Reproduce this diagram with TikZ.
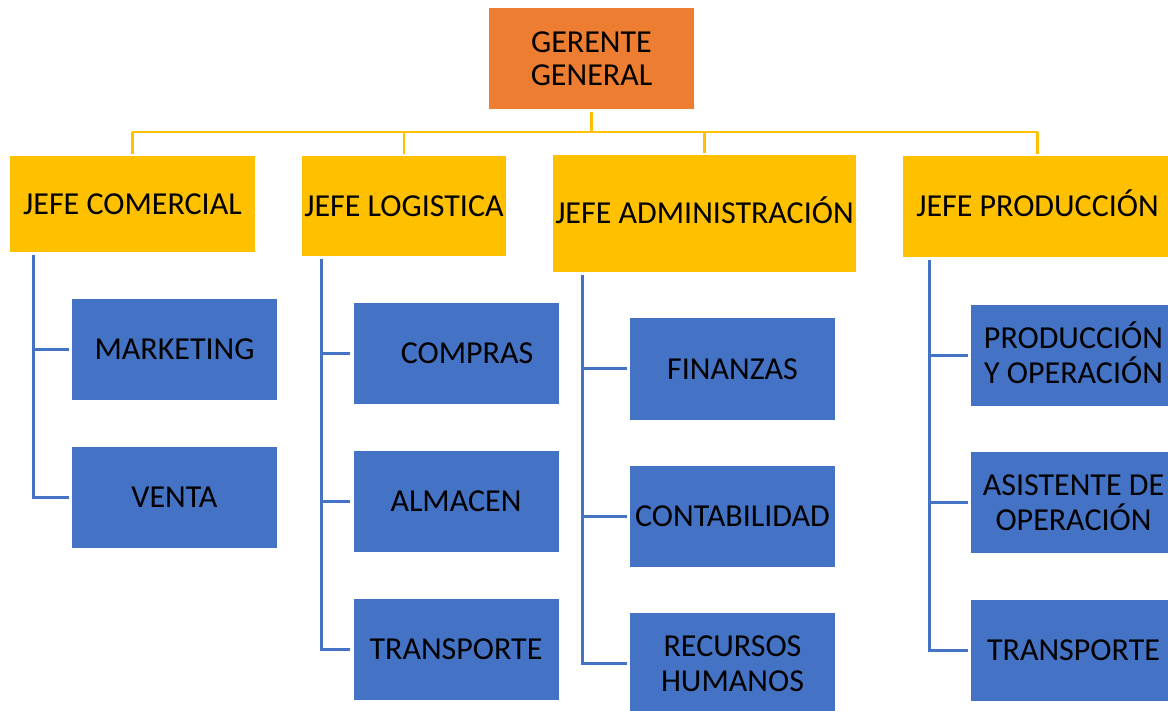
\documentclass[tikz,border=0pt]{standalone}
\usepackage{fontspec}
\setmainfont{Carlito}
\definecolor{orangeB}{HTML}{ED7D31}
\definecolor{yellowB}{HTML}{FFC000}
\definecolor{blueB}{HTML}{4472C4}
\begin{document}
\begin{tikzpicture}[x=1pt,y=-1pt,
  font=\fontsize{32}{35}\selectfont,
  basebox/.style={inner sep=0pt, align=center, text=black},
  topbox/.style={basebox, fill=orangeB, minimum width=205pt, minimum height=101pt, font=\fontsize{32}{33}\selectfont},
  chiefbox/.style={basebox, fill=yellowB},
  capsonly/.style={text height=20.6pt, text depth=0pt},
  unitbox/.style={basebox, fill=blueB, minimum width=205pt, minimum height=101pt},
  yline/.style={draw=yellowB, line width=2.5pt},
  bline/.style={draw=blueB, line width=3pt}]
\useasboundingbox (0,0) rectangle (1168,711);
\clip (0,0) rectangle (1168,711);

% top
\node[topbox] (g) at (591.5,58.5) {GERENTE\\GENERAL};

% chiefs
\node[chiefbox, minimum width=245pt, minimum height=96pt] (c1) at (132.5,204) {JEFE COMERCIAL};
\node[chiefbox, minimum width=204pt, minimum height=100pt] (c2) at (404,206) {JEFE LOGISTICA};
\node[chiefbox, capsonly, minimum width=303pt, minimum height=117pt] (c3) at (704.5,213.5) {JEFE ADMINISTRACIÓN};
\node[chiefbox, capsonly, minimum width=269pt, minimum height=101pt] (c4) at (1037.5,206.5) {JEFE PRODUCCIÓN};

% units
\node[unitbox] (m1) at (174.5,349.5) {MARKETING};
\node[unitbox] (m2) at (174.5,497) {VENTA};
\node[unitbox] (l1) at (456,353.5) {\hspace*{22pt}COMPRAS};
\node[unitbox] (l2) at (456,501) {ALMACEN};
\node[unitbox] (l3) at (456,649) {TRANSPORTE};
\node[unitbox] (a1) at (732.5,369) {FINANZAS};
\node[unitbox] (a2) at (732.5,516.5) {CONTABILIDAD};
\node[unitbox] (a3) at (732.5,663.5) {RECURSOS\\HUMANOS};
\node[unitbox] (p1) at (1073.5,355.5) {\raisebox{0pt}[20.6pt][0pt]{PRODUCCIÓN}\\Y OPERACIÓN};
\node[unitbox] (p2) at (1073.5,502.5) {ASISTENTE DE\\OPERACIÓN};
\node[unitbox] (p3) at (1073.5,650) {TRANSPORTE};

% yellow bus
\coordinate (busL) at (132,132);
\coordinate (busR) at (1038,132);
\draw[yline] (busL) -- (busR);
\draw[yline] ([yshift=-3pt]g.south) -- (g.south |- busL);
\foreach \c in {c1,c2,c3,c4}
  \draw[yline] ([yshift=2pt]\c.north) -- (\c.north |- busL);

% blue connectors
\coordinate (v1) at (33,255);
\coordinate (v2) at (321,259);
\coordinate (v3) at (582,275);
\coordinate (v4) at (929,260);
\draw[bline, shorten >=3pt] (v1) |- (m1.west);
\draw[bline, shorten >=3pt] (v1) |- (m2.west);
\draw[bline, shorten >=3pt] (v2) |- (l1.west);
\draw[bline, shorten >=3pt] (v2) |- (l2.west);
\draw[bline, shorten >=3pt] (v2) |- (l3.west);
\draw[bline, shorten >=3pt] (v3) |- (a1.west);
\draw[bline, shorten >=3pt] (v3) |- (a2.west);
\draw[bline, shorten >=3pt] (v3) |- (a3.west);
\draw[bline, shorten >=3pt] (v4) |- (p1.west);
\draw[bline, shorten >=3pt] (v4) |- (p2.west);
\draw[bline, shorten >=3pt] (v4) |- (p3.west);
\end{tikzpicture}
\end{document}
